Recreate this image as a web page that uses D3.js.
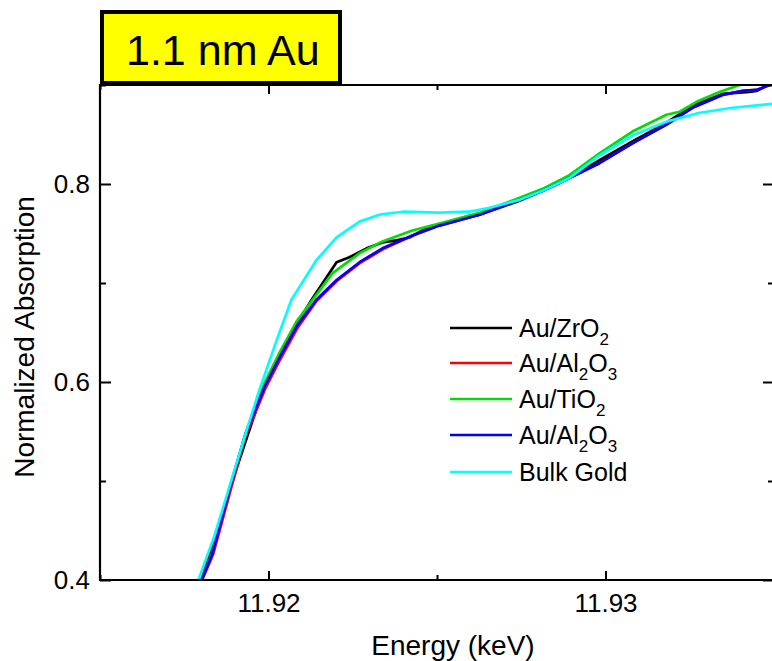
<!DOCTYPE html>
<html><head><meta charset="utf-8">
<script src="https://cdn.jsdelivr.net/npm/d3@7"></script>
<style>
html,body{margin:0;padding:0;background:#fff;}
text{font-family:"Liberation Sans",Arial,sans-serif;fill:#000;}
</style></head>
<body>
<svg id="chart" width="772" height="661"></svg>
<script>
// ---- data ----
const seriesNames = ["Au/ZrO2", "Au/Al2O3", "Au/TiO2", "Au/Al2O3 ", "Bulk Gold"];
const seriesColors = ["#000000", "#ff0000", "#00dd00", "#0000ff", "#00ffff"];

const zrO2 = [
 [11.91801,0.400],[11.91884,0.491],[11.91988,0.597],[11.92083,0.658],[11.92128,0.683],
 [11.92202,0.721],[11.92240,0.726],[11.92291,0.735],[11.92338,0.741],[11.92380,0.743],
 [11.92418,0.746],[11.92478,0.757],[11.92507,0.759],[11.92626,0.769],[11.92745,0.783],
 [11.92819,0.794],[11.92893,0.806],[11.92982,0.824],[11.93080,0.843],[11.93181,0.862],
 [11.93258,0.879],[11.93347,0.891],[11.93427,0.893],[11.93448,0.894],[11.93478,0.899],[11.93501,0.902]
];
const al2O3a = [
 [11.91803,0.400],[11.91836,0.426],[11.91886,0.489],[11.91933,0.546],[11.91990,0.593],
 [11.92035,0.623],[11.92085,0.654],[11.92143,0.682],[11.92203,0.702],[11.92271,0.720],
 [11.92339,0.734],[11.92428,0.748],[11.92507,0.758],[11.92626,0.769],[11.92745,0.784],
 [11.92819,0.794],[11.92893,0.806],[11.92982,0.821],[11.93080,0.841],[11.93181,0.860],
 [11.93258,0.877],[11.93347,0.890],[11.93407,0.894],[11.93448,0.895],[11.93487,0.900],[11.93510,0.903]
];
const tiO2 = [
 [11.91801,0.400],[11.91834,0.428],[11.91884,0.493],[11.91935,0.551],[11.91988,0.599],
 [11.92033,0.630],[11.92083,0.661],[11.92131,0.683],[11.92190,0.710],[11.92270,0.730],
 [11.92338,0.742],[11.92427,0.753],[11.92507,0.760],[11.92626,0.771],[11.92745,0.786],
 [11.92819,0.796],[11.92893,0.809],[11.92982,0.831],[11.93080,0.853],[11.93181,0.870],
 [11.93220,0.873],[11.93270,0.883],[11.93338,0.893],[11.93398,0.900],[11.93450,0.905]
];
const al2O3b = [
 [11.91802,0.400],[11.91834,0.427],[11.91884,0.491],[11.91932,0.548],[11.91988,0.595],
 [11.92033,0.625],[11.92083,0.656],[11.92142,0.683],[11.92202,0.703],[11.92270,0.721],
 [11.92338,0.735],[11.92427,0.748],[11.92507,0.758],[11.92626,0.769],[11.92745,0.784],
 [11.92819,0.794],[11.92893,0.806],[11.92982,0.821],[11.93080,0.841],[11.93181,0.860],
 [11.93258,0.877],[11.93347,0.890],[11.93407,0.894],[11.93448,0.895],[11.93487,0.900],[11.93510,0.903]
];
const bulkGold = [
 [11.91792,0.400],[11.91840,0.445],[11.91884,0.494],[11.91935,0.551],[11.91973,0.592],
 [11.92024,0.642],[11.92068,0.683],[11.92142,0.723],[11.92202,0.746],[11.92270,0.762],
 [11.92329,0.769],[11.92398,0.772],[11.92507,0.771],[11.92596,0.772],[11.92656,0.776],
 [11.92745,0.784],[11.92819,0.794],[11.92893,0.806],[11.92982,0.829],[11.93080,0.849],
 [11.93181,0.863],[11.93279,0.872],[11.93377,0.877],[11.93493,0.881],[11.93550,0.882]
];
const seriesData = [zrO2, al2O3a, tiO2, al2O3b, bulkGold];

const xTickValues = [11.92, 11.93];
const xTickLabels = ["11.92", "11.93"];
const xMinorTicks = [11.915, 11.925, 11.935];
const yTickValues = [0.4, 0.6, 0.8];
const yTickLabels = ["0.4", "0.6", "0.8"];
const yMinorTicks = [0.5, 0.7, 0.9];

const titleText = "1.1 nm Au";
const xTitle = "Energy (keV)";
const yTitle = "Normalized Absorption";

// ---- layout ----
const L = 100, R = 774, T = 85, B = 580;
const svg = d3.select("#chart");
const x = d3.scaleLinear().domain([11.915, 11.935]).range([L, R]);
const y = d3.scaleLinear().domain([0.4, 0.9]).range([B, T]);

svg.append("defs").append("clipPath").attr("id","clip")
  .append("rect").attr("x",L).attr("y",T).attr("width",R-L).attr("height",B-T);

// curves
const line = d3.line().x(d=>x(d[0])).y(d=>y(d[1])).curve(d3.curveLinear);
const g = svg.append("g").attr("clip-path","url(#clip)");
seriesData.forEach((s,i)=>{
  g.append("path").datum(s).attr("d",line).attr("fill","none")
   .attr("stroke",seriesColors[i]).attr("stroke-width",2.7).attr("stroke-linejoin","round");
});

// axes (ticks inward)
const fmtX = d=>xTickLabels[xTickValues.indexOf(d)];
const fmtY = d=>yTickLabels[yTickValues.indexOf(d)];
function styleAxis(sel){
  sel.select(".domain").remove();
  sel.selectAll("line").attr("stroke","#000").attr("stroke-width",2);
  sel.selectAll("text").style("font-size","26px").style("font-family","'Liberation Sans',Arial,sans-serif");
}
svg.append("g").attr("transform",`translate(0,${B})`)
  .call(d3.axisBottom(x).tickValues(xTickValues).tickFormat(fmtX).tickSizeInner(-9).tickPadding(14))
  .call(styleAxis);
svg.append("g").attr("transform",`translate(0,${B})`)
  .call(d3.axisBottom(x).tickValues(xMinorTicks).tickFormat("").tickSizeInner(-5))
  .call(styleAxis);
svg.append("g").attr("transform",`translate(0,${T})`)
  .call(d3.axisTop(x).tickValues(xTickValues).tickFormat("").tickSizeInner(-9))
  .call(styleAxis);
svg.append("g").attr("transform",`translate(0,${T})`)
  .call(d3.axisTop(x).tickValues(xMinorTicks).tickFormat("").tickSizeInner(-5))
  .call(styleAxis);
svg.append("g").attr("transform",`translate(${L},0)`)
  .call(d3.axisLeft(y).tickValues(yTickValues).tickFormat(fmtY).tickSizeInner(-11).tickPadding(10))
  .call(styleAxis);
svg.append("g").attr("transform",`translate(${L},0)`)
  .call(d3.axisLeft(y).tickValues(yMinorTicks).tickFormat("").tickSizeInner(-6))
  .call(styleAxis);
svg.append("g").attr("transform",`translate(${R-2},0)`)
  .call(d3.axisRight(y).tickValues(yTickValues).tickFormat("").tickSizeInner(-9))
  .call(styleAxis);
svg.append("g").attr("transform",`translate(${R-2},0)`)
  .call(d3.axisRight(y).tickValues(yMinorTicks).tickFormat("").tickSizeInner(-4))
  .call(styleAxis);

// frame (left, top, bottom; right edge lies outside the window)
svg.append("path")
  .attr("d",`M${R+4},${T}H${L}V${B}H${R+4}`)
  .attr("fill","none").attr("stroke","#000").attr("stroke-width",2.2);

// axis titles
svg.append("text").attr("x",453).attr("y",655).attr("text-anchor","middle")
  .style("font-size","28px").text(xTitle);
svg.append("text").attr("transform","translate(34,337) rotate(-90)").attr("text-anchor","middle")
  .style("font-size","28px").text(yTitle);

// title box
svg.append("rect").attr("x",102).attr("y",12).attr("width",238).attr("height",71)
  .attr("fill","#ffff00").attr("stroke","#000").attr("stroke-width",4);
svg.append("text").attr("x",126).attr("y",65).style("font-size","43px").text(titleText);

// legend
const legendLabels = [
  [["Au/ZrO",""],["2","sub"]],
  [["Au/Al",""],["2","sub"],["O",""],["3","sub"]],
  [["Au/TiO",""],["2","sub"]],
  [["Au/Al",""],["2","sub"],["O",""],["3","sub"]],
  [["Bulk Gold",""]]
];
const legendY = [328, 363, 399, 435, 472];
legendLabels.forEach((parts,i)=>{
  const ly = legendY[i];
  svg.append("line").attr("x1",450).attr("x2",512).attr("y1",ly).attr("y2",ly)
    .attr("stroke",seriesColors[i]).attr("stroke-width",2.7);
  const t = svg.append("text").attr("x",519).attr("y",ly+9).style("font-size","25px");
  parts.forEach(p=>{
    const ts = t.append("tspan").text(p[0]);
    if(p[1]==="sub"){ ts.style("font-size","17px").attr("dy",8); }
    else { ts.attr("dy", t.selectAll("tspan").size()>1 ? -8 : 0); }
  });
});
</script>
</body></html>
